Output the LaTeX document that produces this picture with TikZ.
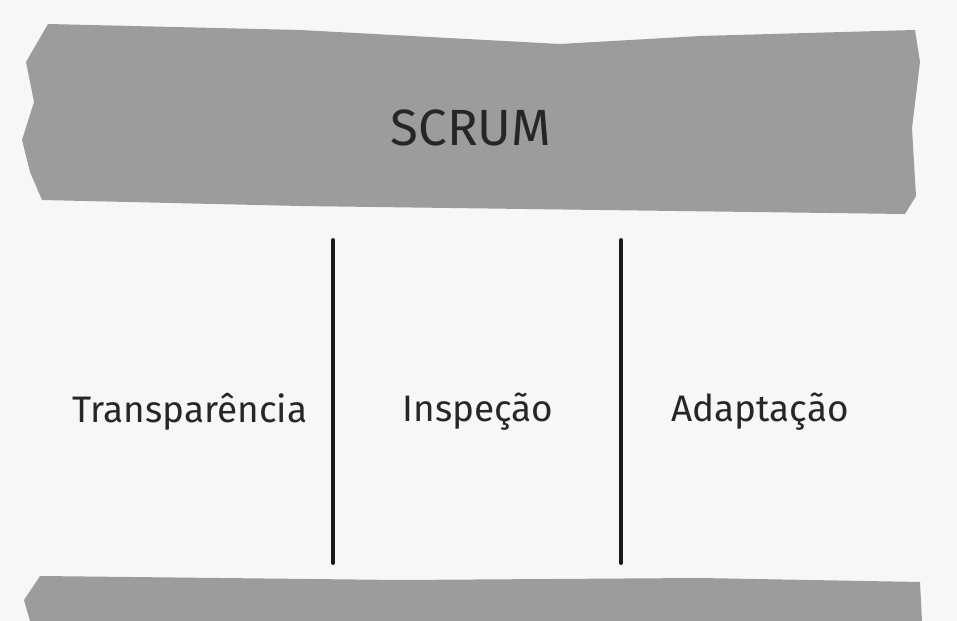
\documentclass[tikz,border=0pt]{standalone}
\usepackage{fontspec}
\setmainfont{Fira Sans}
\usetikzlibrary{calc}
\definecolor{paper}{HTML}{F7F7F5}
\definecolor{brush}{HTML}{9C9C9A}
\providecommand*{\pgfmathsetnewmacro}[2]{%
    \newcommand*{#1}{}% Error if already defined
    \pgfmathsetmacro{#1}{#2}%
}

\begin{document}
\begin{tikzpicture}[x=0.02cm, y=-0.02cm, black!85, line width = 0.75pt,
    pillar/.style = {line width = 2.2pt, black!90, line cap=round},
    label/.style  = {font=\fontsize{21}{24}\selectfont, inner sep=0pt}]

\useasboundingbox (0,0) rectangle (957,621);
\fill[paper] (0,0) rectangle (957,621);

\pgfmathsetnewmacro{\topy}{240}
\pgfmathsetnewmacro{\boty}{563}

% top brush stroke
\fill[brush] (48,24) -- (300,30) -- (560,44) -- (700,36) -- (915,30)
    -- (920,62) -- (912,128) -- (916,196) -- (905,214)
    -- (600,210) -- (300,206) -- (42,200)
    -- (30,172) -- (22,140) -- (34,102) -- (26,62) -- cycle;

% bottom brush stroke
\fill[brush] (40,576) -- (400,580) -- (700,578) -- (920,582)
    -- (922,621) -- (30,621) -- (24,600) -- cycle;

\node (scrum) at (471,128) {\fontsize{29}{32}\selectfont SCRUM};

\foreach \NAME/\X in {a/333, b/621}{
    \coordinate (\NAME top) at (\X,\topy);
    \coordinate (\NAME bot) at (\X,\boty);
    \draw[pillar] (\NAME top) -- (\NAME bot);
    };

\foreach \NAME/\X/\TEXT in {
                        trans/190/Transparência,
                        insp/478/Inspeção,
                        adapt/760/Adaptação}{
    \node[label] (\NAME) at (\X,412) {\TEXT};
    };

\end{tikzpicture}
\end{document}
